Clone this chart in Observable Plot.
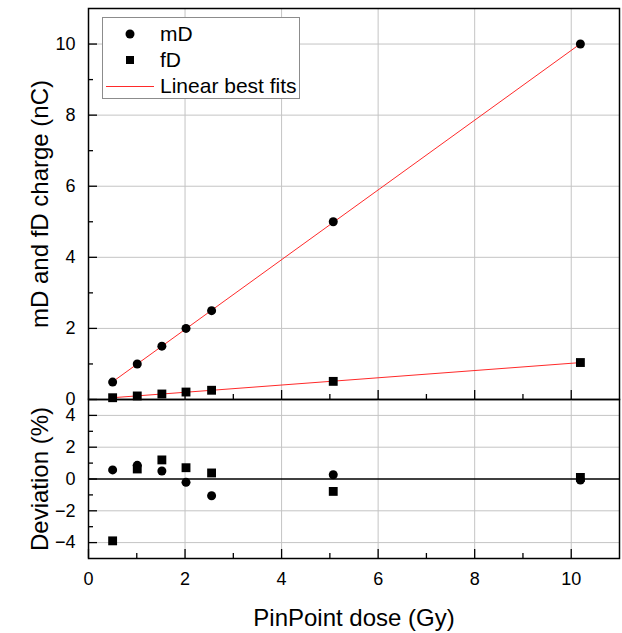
<!DOCTYPE html>
<html><head><meta charset="utf-8">
<script src="https://cdn.jsdelivr.net/npm/d3@7"></script>
<script src="https://cdn.jsdelivr.net/npm/@observablehq/plot@0.6"></script>
<style>
body{margin:0;background:#fff;}
#chart{position:relative;width:622px;height:633px;font-family:"Liberation Sans",Arial,sans-serif;}
#chart .panel{position:absolute;left:0;}
#legend{position:absolute;left:102px;top:17px;width:198px;height:82px;border:1px solid #8c8c8c;background:#fff;font-size:21px;box-sizing:border-box;}
#legend .row{position:absolute;left:0;height:26px;line-height:26px;}
#legend svg{position:absolute;left:0;top:0;}
#legend span{position:absolute;left:57px;top:0;white-space:nowrap;}
</style></head><body><div id="chart"></div>
<script>
// PinPoint dose (Gy)
const dose = [0.5, 1.01, 1.52, 2.02, 2.55, 5.07, 10.19];
// charges (nC)
const mD = [0.49, 1.0, 1.5, 2.0, 2.5, 5.0, 10.0];
const fD = [0.05, 0.1, 0.155, 0.21, 0.26, 0.51, 1.04];
// deviations (%)
const devMD = [0.57, 0.86, 0.5, -0.21, -1.05, 0.27, -0.06];
const devFD = [-3.89, 0.63, 1.2, 0.71, 0.38, -0.78, 0.1];
// ticks
const xTicks = [0, 2, 4, 6, 8, 10];
const xMinor = [1, 3, 5, 7, 9];
const topTicks = [0, 2, 4, 6, 8, 10];
const topMinor = [1, 3, 5, 7, 9];
const botTicks = [-4, -2, 0, 2, 4];
const botMinor = [-3, -1, 1, 3];
const seriesNames = ["mD", "fD", "Linear best fits"];

const font = "'Liberation Sans', Arial, sans-serif";
const gridColor = "#c4c4c4";
const fitColor = "#ff2a2a";

const mdData = dose.map((d, i) => ({dose: d, v: mD[i]}));
const fdData = dose.map((d, i) => ({dose: d, v: fD[i]}));
const mdDev = dose.map((d, i) => ({dose: d, v: devMD[i]}));
const fdDev = dose.map((d, i) => ({dose: d, v: devFD[i]}));

const W = 622, ML = 88, MR = 3;
const style = {fontFamily: font, fontSize: "18px", color: "black", background: "transparent", overflow: "visible"};

const topPlot = Plot.plot({
  width: W, height: 399, marginTop: 8, marginBottom: 0, marginLeft: ML, marginRight: MR,
  style,
  x: {domain: [0, 11]},
  y: {domain: [0, 11]},
  marks: [
    Plot.gridX(xTicks.filter(d => d > 0), {stroke: gridColor, strokeOpacity: 1}),
    Plot.gridY(topTicks.filter(d => d > 0), {stroke: gridColor, strokeOpacity: 1}),
    Plot.linearRegressionY(mdData, {x: "dose", y: "v", stroke: fitColor, strokeWidth: 1, ci: 0}),
    Plot.linearRegressionY(fdData, {x: "dose", y: "v", stroke: fitColor, strokeWidth: 1, ci: 0}),
    Plot.dot(mdData, {x: "dose", y: "v", r: 4.5, fill: "black", symbol: "circle"}),
    Plot.dot(fdData, {x: "dose", y: "v", r: 5, fill: "black", symbol: "square"}),
    Plot.axisY(topTicks, {tickSize: -9, fill: "none", label: null, strokeWidth: 1.3}),
    Plot.axisY(topMinor, {tickSize: -5, fill: "none", label: null, strokeWidth: 1.3}),
    Plot.axisY(topTicks, {tickSize: 0, tickPadding: 13, label: null}),
    Plot.axisX(xTicks, {anchor: "bottom", tickSize: -9, fill: "none", label: null, strokeWidth: 1.3}),
    Plot.axisX(xMinor, {anchor: "bottom", tickSize: -5, fill: "none", label: null, strokeWidth: 1.3}),
    Plot.text(["mD and fD charge (nC)"], {frameAnchor: "left", dx: -48, rotate: -90, textAnchor: "middle", lineAnchor: "middle", fontSize: 24, fill: "black"}),
    Plot.frame({stroke: "black", strokeWidth: 1.5})
  ]
});

const botPlot = Plot.plot({
  width: W, height: 234, marginTop: 0, marginBottom: 75, marginLeft: ML, marginRight: MR,
  style,
  x: {domain: [0, 11]},
  y: {domain: [-5, 5]},
  marks: [
    Plot.gridX(xTicks.filter(d => d > 0), {stroke: gridColor, strokeOpacity: 1}),
    Plot.gridY(botTicks.filter(d => d !== 0), {stroke: gridColor, strokeOpacity: 1}),
    Plot.ruleY([0], {stroke: "black", strokeWidth: 1.5}),
    Plot.dot(mdDev, {x: "dose", y: "v", r: 4.5, fill: "black", symbol: "circle"}),
    Plot.dot(fdDev, {x: "dose", y: "v", r: 5, fill: "black", symbol: "square"}),
    Plot.axisY(botTicks, {tickSize: -9, fill: "none", label: null, strokeWidth: 1.3}),
    Plot.axisY(botMinor, {tickSize: -5, fill: "none", label: null, strokeWidth: 1.3}),
    Plot.axisY(botTicks, {tickSize: 0, tickPadding: 13, label: null}),
    Plot.axisX(xTicks, {anchor: "bottom", tickSize: -9, fill: "none", label: null, strokeWidth: 1.3}),
    Plot.axisX(xMinor, {anchor: "bottom", tickSize: -5, fill: "none", label: null, strokeWidth: 1.3}),
    Plot.axisX(xTicks, {anchor: "bottom", tickSize: 0, tickPadding: 14, label: null}),
    Plot.text(["Deviation (%)"], {frameAnchor: "left", dx: -48, rotate: -90, textAnchor: "middle", lineAnchor: "middle", fontSize: 24, fill: "black"}),
    Plot.text(["PinPoint dose (Gy)"], {frameAnchor: "bottom", dy: 60, textAnchor: "middle", lineAnchor: "middle", fontSize: 24, fill: "black"}),
    Plot.frame({stroke: "black", strokeWidth: 1.5})
  ]
});

const chart = document.getElementById("chart");
const d1 = document.createElement("div"); d1.className = "panel"; d1.style.top = "0px"; d1.appendChild(topPlot);
const d2 = document.createElement("div"); d2.className = "panel"; d2.style.top = "399px"; d2.appendChild(botPlot);
chart.appendChild(d1);
chart.appendChild(d2);

// legend
const legend = document.createElement("div");
legend.id = "legend";
const symbols = [
  '<svg width="56" height="26"><circle cx="27" cy="13" r="4.5" fill="black"/></svg>',
  '<svg width="56" height="26"><rect x="23" y="9" width="8" height="8" fill="black"/></svg>',
  '<svg width="56" height="26"><line x1="3" x2="51" y1="13.5" y2="13.5" stroke="' + fitColor + '" stroke-width="1"/></svg>'
];
seriesNames.forEach((name, i) => {
  const row = document.createElement("div");
  row.className = "row";
  row.style.top = (3 + i * 26) + "px";
  row.style.width = "196px";
  row.innerHTML = symbols[i] + "<span>" + name + "</span>";
  legend.appendChild(row);
});
chart.appendChild(legend);
</script>
</body></html>
